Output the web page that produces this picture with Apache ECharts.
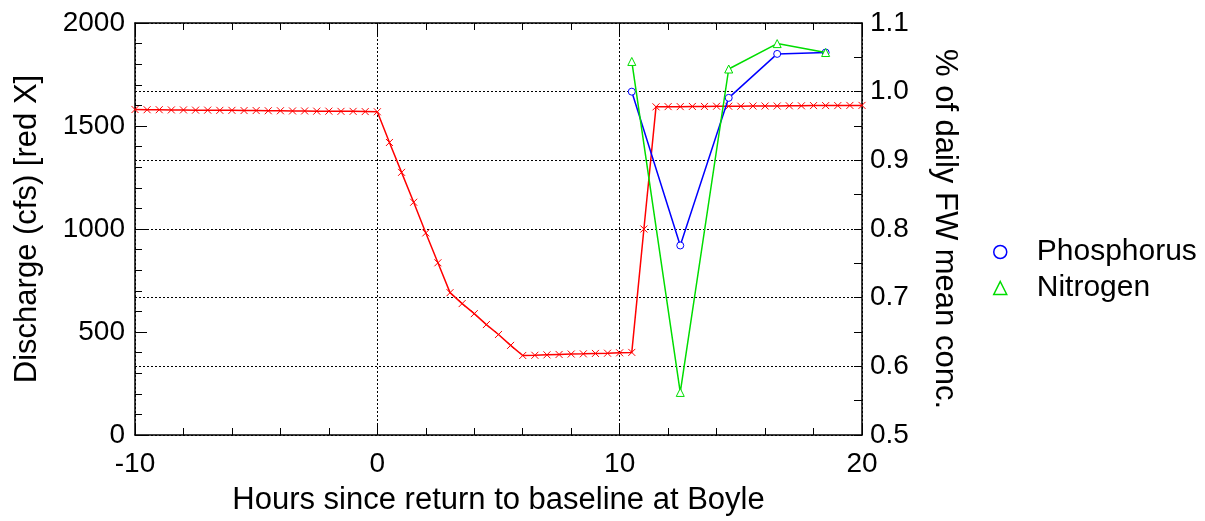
<!DOCTYPE html>
<html>
<head>
<meta charset="utf-8">
<script src="https://cdn.jsdelivr.net/npm/echarts@6/dist/echarts.min.js"></script>
<style>
  html, body { margin: 0; padding: 0; background: #fff; }
  .EC { width: 1205px; height: 521px; }
</style>
</head>
<body>
<div class="EC"></div>
<script>
// hours since return to baseline (discharge samples every half hour)
const hours = [
    -10, -9.5, -9, -8.5, -8, -7.5, -7, -6.5, -6, -5.5,
    -5, -4.5, -4, -3.5, -3, -2.5, -2, -1.5, -1, -0.5,
    0, 0.5, 1, 1.5, 2, 2.5, 3, 3.5, 4, 4.5,
    5, 5.5, 6, 6.5, 7, 7.5, 8, 8.5, 9, 9.5,
    10, 10.5, 11, 11.5, 12, 12.5, 13, 13.5, 14, 14.5,
    15, 15.5, 16, 16.5, 17, 17.5, 18, 18.5, 19, 19.5, 20
]
// discharge (cfs) [red X]
const discharge = [
    1580, 1579, 1579, 1578, 1578, 1577, 1577, 1576, 1576, 1575,
    1575, 1574, 1574, 1573, 1573, 1572, 1572, 1571, 1571, 1570,
    1569, 1420, 1275, 1130, 981, 836, 691, 638, 589, 536,
    488, 435, 386, 387, 389, 391, 393, 394, 396, 397,
    399, 401, 1000, 1593, 1594, 1594, 1595, 1595, 1596, 1596,
    1596, 1597, 1597, 1597, 1598, 1598, 1599, 1599, 1599, 1600, 1600
]
// sample hours for the concentration ratios
const sampleHours = [10.5, 12.5, 14.5, 16.5, 18.5]
const phosphorus = [1.0, 0.776, 0.991, 1.055, 1.057]
const nitrogen = [1.044, 0.562, 1.033, 1.07, 1.057]

const FONT = 'Liberation Sans, Arial, sans-serif'
const zip = (xs, ys) => xs.map((x, i) => [x, ys[i]])

window.onload = () => {
    let EC = echarts.init(document.querySelector('.EC'))

    let dotted = { show: true, lineStyle: { color: '#000', type: [2, 2], width: 1 } }
    let tickText = { color: '#000', fontSize: 28, fontFamily: FONT }
    let nameText = { color: '#000', fontSize: 31, fontFamily: FONT }

    let option = {
        backgroundColor: '#fff',
        animation: false,
        grid: { left: 135, right: 343, top: 23, bottom: 84 },
        legend: {
            orient: 'vertical',
            left: 988,
            top: 232,
            itemWidth: 13,
            itemHeight: 13,
            itemGap: 6,
            textStyle: { color: '#000', fontSize: 30, fontFamily: FONT, padding: [0, 0, 0, 25] },
            data: [
                { name: 'Phosphorus', icon: 'circle', itemStyle: { color: '#fff', borderColor: '#0000ff', borderWidth: 1.5 } },
                { name: 'Nitrogen', icon: 'triangle', itemStyle: { color: '#fff', borderColor: '#00dd00', borderWidth: 1.5 } }
            ]
        },
        xAxis: [{
            type: 'value',
            min: -10, max: 20, interval: 10,
            name: 'Hours since return to baseline at Boyle',
            nameLocation: 'middle',
            nameGap: 50,
            nameTextStyle: nameText,
            axisLine: { show: true, onZero: false, lineStyle: { color: '#000', width: 1.5 } },
            axisTick: { inside: true, length: 12, lineStyle: { color: '#000' } },
            minorTick: { show: true, splitNumber: 5, length: 7, lineStyle: { color: '#000' } },
            axisLabel: { ...tickText, margin: 15, formatter: v => String(v) },
            splitLine: dotted
        }, {
            type: 'value',
            position: 'top',
            min: -10, max: 20, interval: 10,
            axisLine: { show: true, onZero: false, lineStyle: { color: '#000', width: 1.5 } },
            axisTick: { inside: true, length: 12, lineStyle: { color: '#000' } },
            minorTick: { show: true, splitNumber: 5, length: 7, lineStyle: { color: '#000' } },
            axisLabel: { show: false },
            splitLine: { show: false }
        }],
        yAxis: [{
            type: 'value',
            min: 0, max: 2000, interval: 500,
            name: 'Discharge (cfs) [red X]',
            nameLocation: 'middle',
            nameGap: 92,
            nameTextStyle: nameText,
            axisLine: { show: true, onZero: false, lineStyle: { color: '#000', width: 1.5 } },
            axisTick: { inside: true, length: 12, lineStyle: { color: '#000' } },
            minorTick: { show: true, splitNumber: 5, length: 7, lineStyle: { color: '#000' } },
            axisLabel: { ...tickText, margin: 10, formatter: v => String(v) },
            splitLine: { show: false }
        }, {
            type: 'value',
            position: 'right',
            min: 0.5, max: 1.1, interval: 0.1,
            name: '% of daily FW mean conc.',
            nameLocation: 'middle',
            nameGap: 67,
            nameRotate: -90,
            nameTextStyle: nameText,
            axisLine: { show: true, onZero: false, lineStyle: { color: '#000', width: 1.5 } },
            axisTick: { inside: true, length: 8, lineStyle: { color: '#000' } },
            minorTick: { show: true, splitNumber: 2, length: 8, lineStyle: { color: '#000' } },
            axisLabel: { ...tickText, margin: 8, formatter: v => v.toFixed(1) },
            splitLine: dotted
        }],
        series: [{
            name: 'Discharge',
            type: 'line',
            xAxisIndex: 0,
            yAxisIndex: 0,
            data: zip(hours, discharge),
            symbol: 'path://M0,0L10,10M10,0L0,10',
            symbolSize: 7,
            showAllSymbol: true,
            lineStyle: { color: '#ff0000', width: 1.5 },
            itemStyle: { color: '#ff0000', borderColor: '#ff0000', borderWidth: 1 },
            z: 3
        }, {
            name: 'Phosphorus',
            type: 'line',
            xAxisIndex: 0,
            yAxisIndex: 1,
            data: zip(sampleHours, phosphorus),
            symbol: 'circle',
            symbolSize: 7,
            lineStyle: { color: '#0000ff', width: 1.5 },
            itemStyle: { color: '#fff', borderColor: '#0000ff', borderWidth: 1 },
            z: 4
        }, {
            name: 'Nitrogen',
            type: 'line',
            xAxisIndex: 0,
            yAxisIndex: 1,
            data: zip(sampleHours, nitrogen),
            symbol: 'triangle',
            symbolSize: 8,
            lineStyle: { color: '#00dd00', width: 1.5 },
            itemStyle: { color: '#fff', borderColor: '#00dd00', borderWidth: 1 },
            z: 5
        }]
    }
    EC.setOption(option)
}
</script>
</body>
</html>
